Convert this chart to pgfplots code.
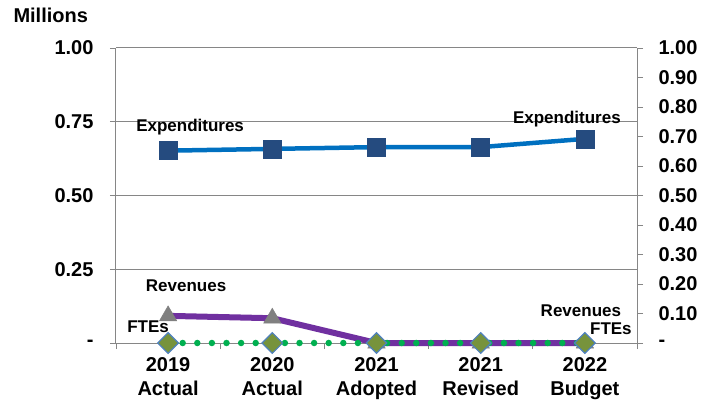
\documentclass[border=0pt]{standalone}
\usepackage{pgfplots}
\pgfplotsset{compat=1.18}
\usepackage{fontspec}
\setmainfont{Liberation Sans}
\definecolor{gridgray}{HTML}{868686}
\definecolor{expline}{HTML}{0070C0}
\definecolor{expmark}{HTML}{254B7F}
\definecolor{revline}{HTML}{7030A0}
\definecolor{revmark}{HTML}{808080}
\definecolor{fteline}{HTML}{00B050}
\definecolor{ftemark}{HTML}{77933C}
\definecolor{fteedge}{HTML}{4F81BD}
\newcommand{\tfont}{\bfseries\fontsize{20bp}{24bp}\selectfont}
\newcommand{\lfont}{\bfseries\fontsize{17bp}{20bp}\selectfont}
\begin{document}
\begin{tikzpicture}
\useasboundingbox (-116bp,-60bp) rectangle (594bp,343bp);
\pgfplotsset{common/.style={
  scale only axis, width=521bp, height=295bp,
  xmin=-0.5, xmax=4.5, ymin=0, ymax=1,
  tick align=outside, major tick length=6bp, minor tick length=6bp,
  every tick/.style={gridgray, line width=0.8bp},
  axis line style={gridgray, line width=1bp},
  ticklabel style={font=\tfont},
  /pgf/number format/assume math mode=true,
  clip=false}}
\begin{axis}[common,
  axis y line*=left, axis x line*=bottom,
  ytick={0,0.25,0.5,0.75,1},
  yticklabels={-,0.25,0.50,0.75,1.00},
  yticklabel style={xshift=-13bp},
  ymajorgrids, grid style={gridgray, line width=1bp},
  xtick={0,1,2,3,4},
  xticklabels={2019\\Actual,2020\\Actual,2021\\Adopted,2021\\Revised,2022\\Budget},
  xticklabel style={align=center, yshift=-5bp},
  major x tick style={draw=none},
  minor xtick={-0.5,0.5,1.5,2.5,3.5,4.5},
  minor x tick style={gridgray, line width=0.8bp},
]
\addplot[expline, line width=4.5bp, mark=square*, mark size=9bp,
  mark options={fill=expmark, draw=expmark, line width=0.5bp}]
  coordinates {(0,0.652) (1,0.658) (2,0.664) (3,0.664) (4,0.692)};
\addplot[revline, line width=6bp, mark=triangle*, mark size=10bp,
  mark options={fill=revmark, draw=revmark, line width=0.5bp}]
  coordinates {(0,0.092) (1,0.084) (2,0) (3,0) (4,0)};
\node[font=\lfont] at (axis cs:0,0.652) [xshift=22bp, yshift=24bp] {Expenditures};
\node[font=\lfont] at (axis cs:4,0.692) [xshift=-18bp, yshift=20bp] {Expenditures};
\node[font=\lfont] at (axis cs:0,0.092) [xshift=18bp, yshift=30bp] {Revenues};
\node[font=\lfont] at (axis cs:4,0) [xshift=-4bp, yshift=32bp] {Revenues};
\node[font=\lfont] at (axis cs:0,0) [xshift=-20bp, yshift=16bp] {FTEs};
\node[font=\lfont] at (axis cs:4,0) [xshift=26bp, yshift=14bp] {FTEs};
\end{axis}
\begin{axis}[common,
  axis y line*=right, axis x line=none,
  ytick={0,0.1,0.2,0.3,0.4,0.5,0.6,0.7,0.8,0.9,1},
  yticklabels={-,0.10,0.20,0.30,0.40,0.50,0.60,0.70,0.80,0.90,1.00},
  yticklabel style={xshift=12bp},
]
\addplot[fteline, line width=6.5bp, line cap=round, dash pattern=on 0bp off 14.6bp,
  mark=square*, mark size=7.3bp,
  mark options={solid, rotate=45, fill=ftemark, draw=fteedge, line width=1.2bp}]
  coordinates {(0,0) (1,0) (2,0) (3,0) (4,0)};
\end{axis}
\node[font=\tfont, anchor=west] at (-106bp,328bp) {Millions};
\end{tikzpicture}
\end{document}
